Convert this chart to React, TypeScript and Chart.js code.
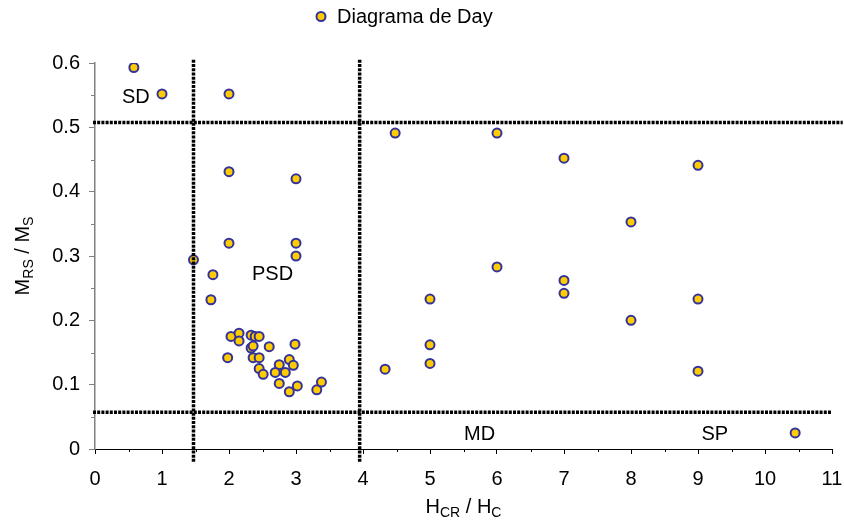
import React, { useEffect, useRef } from "react";
import { Chart, registerables } from "chart.js";

Chart.register(...registerables);

// ---- data ----
const hcrHc = [
  0.58, 1.0, 2.0,
  2.0, 3.0, 2.0, 3.0, 3.0, 1.47, 1.76, 1.73,
  2.03, 2.15, 2.15, 2.33, 2.39, 2.45, 2.33, 2.36, 2.6, 2.985,
  1.98, 2.36, 2.45, 2.45, 2.51, 2.75, 2.9, 2.96, 2.69, 2.84,
  2.75, 2.9, 3.02, 3.31, 3.38,
  4.48, 6.0, 7.0, 9.0, 8.0, 6.0, 7.0, 7.0, 5.0, 9.0, 8.0, 5.0, 5.0, 4.33, 9.0, 10.45,
];
const mrsMs = [
  0.593, 0.552, 0.552,
  0.431, 0.42, 0.32, 0.32, 0.3, 0.294, 0.271, 0.232,
  0.175, 0.18, 0.168, 0.177, 0.175, 0.175, 0.157, 0.16, 0.159, 0.163,
  0.142, 0.142, 0.142, 0.125, 0.116, 0.131, 0.139, 0.13, 0.119, 0.119,
  0.102, 0.089, 0.098, 0.092, 0.104,
  0.491, 0.491, 0.452, 0.441, 0.353, 0.283, 0.262, 0.242, 0.233, 0.233, 0.2, 0.162, 0.133, 0.124, 0.121, 0.025,
];

const seriesLabel = "Diagrama de Day";

// limit lines (data units)
const verticalLimitsX = [1.47, 3.95];
const verticalSpanY = [-0.02, 0.606];
const horizontalLimitsY = [0.5075, 0.057];
const horizontalStartX = [-0.03, -0.03];
const horizontalEndX = [11.16, 11.0];

// region labels
const regionLabels = ["SD", "PSD", "MD", "SP"];
const regionX = [0.61, 2.65, 5.74, 9.25];
const regionY = [0.546, 0.272, 0.0233, 0.0233];

// axes
const xMin = 0, xMax = 11, xStep = 1;
const yMin = 0, yMax = 0.6, yStep = 0.1;
const xMinorTicks = [0.5, 1.5, 2.5, 3.5, 4.5, 5.5, 6.5, 7.5, 8.5, 9.5, 10.5];
const yMinorTicks = [0.05, 0.15, 0.25, 0.35, 0.45, 0.55];
const xTitleParts = [["H", false], ["CR", true], [" / H", false], ["C", true]] as [string, boolean][];
const yTitleParts = [["M", false], ["RS", true], [" / M", false], ["S", true]] as [string, boolean][];

const FONT = '"Liberation Sans", Arial, sans-serif';
const FILL = "#FFCC00";
const EDGE = "#333399";

function drawParts(ctx: CanvasRenderingContext2D, parts: [string, boolean][], cx: number, cy: number) {
  const mainF = `20px ${FONT}`;
  const subF = `14px ${FONT}`;
  let total = 0;
  for (const [t, sub] of parts) {
    ctx.font = sub ? subF : mainF;
    total += ctx.measureText(t).width;
  }
  let x = cx - total / 2;
  ctx.textAlign = "left";
  ctx.textBaseline = "alphabetic";
  for (const [t, sub] of parts) {
    ctx.font = sub ? subF : mainF;
    ctx.fillText(t, x, cy + (sub ? 4 : 0));
    x += ctx.measureText(t).width;
  }
}

const decorPlugin = {
  id: "decor",
  afterDraw(chart: any) {
    const ctx: CanvasRenderingContext2D = chart.ctx;
    const xs = chart.scales.x;
    const ys = chart.scales.y;
    const area = chart.chartArea;
    ctx.save();
    // minor ticks
    ctx.lineWidth = 1;
    ctx.strokeStyle = "#000";
    for (const v of xMinorTicks) {
      const px = Math.round(xs.getPixelForValue(v)) + 0.5;
      ctx.beginPath();
      ctx.moveTo(px, area.bottom);
      ctx.lineTo(px, area.bottom + 3);
      ctx.stroke();
    }
    ctx.strokeStyle = "#808080";
    for (const v of yMinorTicks) {
      const py = Math.round(ys.getPixelForValue(v)) + 0.5;
      ctx.beginPath();
      ctx.moveTo(area.left, py);
      ctx.lineTo(area.left - 4, py);
      ctx.stroke();
    }
    // region labels
    ctx.fillStyle = "#000";
    ctx.font = `20px ${FONT}`;
    ctx.textAlign = "center";
    ctx.textBaseline = "middle";
    regionLabels.forEach((t, i) => {
      ctx.fillText(t, xs.getPixelForValue(regionX[i]), ys.getPixelForValue(regionY[i]));
    });
    // axis titles
    drawParts(ctx, xTitleParts, (area.left + area.right) / 2, 513);
    ctx.save();
    ctx.translate(29, (area.top + area.bottom) / 2);
    ctx.rotate(-Math.PI / 2);
    drawParts(ctx, yTitleParts, 0, 0);
    ctx.restore();
    // legend
    ctx.beginPath();
    ctx.arc(321, 16.5, 4.5, 0, Math.PI * 2);
    ctx.fillStyle = FILL;
    ctx.fill();
    ctx.lineWidth = 2;
    ctx.strokeStyle = EDGE;
    ctx.stroke();
    ctx.fillStyle = "#000";
    ctx.font = `20px ${FONT}`;
    ctx.textAlign = "left";
    ctx.textBaseline = "middle";
    ctx.fillText(seriesLabel, 337, 17.5);
    ctx.restore();
  },
};

export default function App() {
  const ref = useRef<HTMLCanvasElement | null>(null);
  useEffect(() => {
    if (!ref.current) return;
    const lineStyle = {
      type: "line" as const,
      showLine: true,
      borderColor: "#000",
      borderWidth: 3.5,
      borderDash: [3, 1.2],
      pointRadius: 0,
      clip: false as any,
      fill: false,
    };
    const limitSets = [
      ...verticalLimitsX.map((x) => ({
        ...lineStyle,
        data: [{ x, y: verticalSpanY[0] }, { x, y: verticalSpanY[1] }],
      })),
      ...horizontalLimitsY.map((y, i) => ({
        ...lineStyle,
        data: [{ x: horizontalStartX[i], y }, { x: horizontalEndX[i], y }],
      })),
    ];
    const chart = new Chart(ref.current, {
      type: "scatter",
      data: {
        datasets: [
          ...limitSets,
          {
            label: seriesLabel,
            data: hcrHc.map((x, i) => ({ x, y: mrsMs[i] })),
            backgroundColor: FILL,
            borderColor: EDGE,
            borderWidth: 2,
            pointRadius: 4.5,
          },
        ] as any,
      },
      options: {
        animation: false,
        responsive: true,
        maintainAspectRatio: false,
        layout: { padding: { left: 0, right: 12, top: 63, bottom: 0 } },
        plugins: { legend: { display: false }, tooltip: { enabled: false }, title: { display: false } },
        scales: {
          x: {
            type: "linear",
            min: xMin,
            max: xMax,
            afterFit: (s: any) => { s.height = 72; s.paddingLeft = 0; s.paddingRight = 0; },
            ticks: { stepSize: xStep, color: "#000", font: { family: FONT, size: 20 }, padding: 13, maxRotation: 0 },
            grid: { drawOnChartArea: false, drawTicks: true, tickLength: 5, tickColor: "#000" },
            border: { display: true, color: "#000", width: 1 },
          },
          y: {
            type: "linear",
            min: yMin,
            max: yMax,
            afterFit: (s: any) => { s.width = 95; },
            ticks: {
              stepSize: yStep,
              color: "#000",
              font: { family: FONT, size: 20 },
              padding: 9,
              callback: (v: any) => (Number(v) === 0 ? "0" : Number(v).toFixed(1)),
            },
            grid: { drawOnChartArea: false, drawTicks: true, tickLength: 6, tickColor: "#808080" },
            border: { display: true, color: "#808080", width: 1.5 },
          },
        },
      },
      plugins: [decorPlugin],
    });
    return () => chart.destroy();
  }, []);
  return (
    <div style={{ position: "fixed", left: 0, top: 0, width: 844, height: 521, background: "#fff" }}>
      <canvas ref={ref} />
    </div>
  );
}
